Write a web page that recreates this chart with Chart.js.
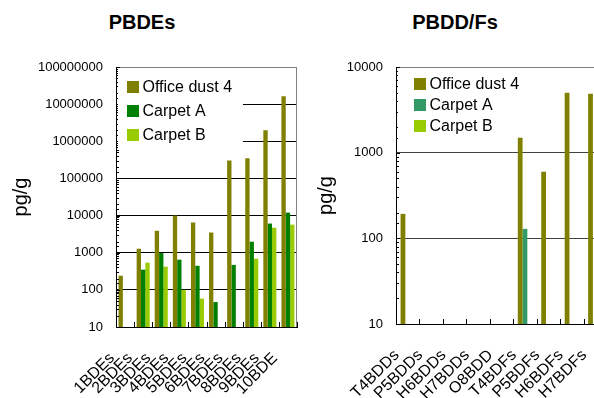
<!DOCTYPE html>
<html>
<head>
<meta charset="utf-8">
<script src="https://cdn.jsdelivr.net/npm/chart.js@4"></script>
<style>
  html, body { margin: 0; padding: 0; background: #fff; overflow: hidden; }
  body { position: relative; width: 594px; height: 398px; font-family: "Liberation Sans", Arial, sans-serif; }
  .title { position: absolute; top: 10px; width: 200px; text-align: center; font-weight: bold; font-size: 20px; line-height: 24px; color: #000; }
  .box { position: absolute; top: 0; height: 398px; }
</style>
</head>
<body>
<div class="title" style="left:42px">PBDEs</div>
<div class="title" style="left:355px">PBDD/Fs</div>
<div class="box" style="left:0; width:305px"><canvas id="pbdeChart"></canvas></div>
<div class="box" style="left:305px; width:310px"><canvas id="pbddChart"></canvas></div>
<script>
// PBDEs (left)
const pbdeLabels = ["1BDEs", "2BDEs", "3BDEs", "4BDEs", "5BDEs", "6BDEs", "7BDEs", "8BDEs", "9BDEs", "10BDE"];
const pbdeOffice = [240, 1280, 3900, 10000, 6500, 3500, 306000, 347000, 1980000, 16400000];
const pbdeCarpetA = [null, 350, 980, 650, 445, 47, 470, 1980, 6100, 12000];
const pbdeCarpetB = [null, 540, 420, 100, 58, null, null, 690, 4700, 5700];

// PBDD/Fs (right)
const pbddLabels = ["T4BDDs", "P5BDDs", "H6BDDs", "H7BDDs", "O8BDD", "T4BDFs", "P5BDFs", "H6BDFs", "H7BDFs"];
const pbddOffice = [193, null, null, null, null, 1490, 600, 5000, 4860];
const pbddCarpetA = [null, null, null, null, null, 129, null, null, null];
const pbddCarpetB = [null, null, null, null, null, null, null, null, null];

const seriesNames = ["Office dust 4", "Carpet A", "Carpet B"];

// colours
const colors = {
    olive: "#808000",
    green: "#008000",
    sea: "#339966",
    lime: "#99CC00"
};

const FONT = "'Liberation Sans', Arial, sans-serif";
Chart.defaults.font.family = FONT;
Chart.defaults.color = "#000";

function isDecade(v) {
    const l = Math.log10(v);
    return Math.abs(l - Math.round(l)) < 1e-9;
}

// small inward ticks, plot frame and a boxed legend like the excel original
const excelBits = {
    id: "excelBits",
    afterDatasetsDraw(chart, args, o) {
        const { ctx, chartArea: a, scales: { x, y } } = chart;
        ctx.save();
        ctx.lineWidth = 1;

        // frame top + right
        ctx.strokeStyle = "#808080";
        ctx.beginPath();
        ctx.moveTo(a.left, a.top + 0.5);
        ctx.lineTo(a.right - 0.5, a.top + 0.5);
        ctx.lineTo(a.right - 0.5, a.bottom);
        ctx.stroke();

        // tick marks
        ctx.strokeStyle = "#000";
        ctx.beginPath();
        y.ticks.forEach(t => {
            const py = Math.round(y.getPixelForValue(t.value)) + 0.5;
            ctx.moveTo(a.left, py);
            ctx.lineTo(a.left + (isDecade(t.value) ? 4 : 3), py);
        });
        for (let i = 0; i <= x.ticks.length; i++) {
            const px = Math.round(x.getPixelForValue(i - 0.5)) + 0.5;
            ctx.moveTo(px, a.bottom);
            ctx.lineTo(px, a.bottom - 5);
        }
        ctx.stroke();

        // legend
        ctx.fillStyle = "#fff";
        ctx.fillRect(a.left + 2, a.top + 2, o.clearW, o.clearH);
        ctx.font = "16px " + FONT;
        ctx.textBaseline = "middle";
        chart.data.datasets.forEach((ds, i) => {
            const cy = a.top + o.top + i * o.gap;
            ctx.fillStyle = ds.backgroundColor;
            ctx.fillRect(a.left + o.left, cy - 6, 12, 12);
            ctx.fillStyle = "#000";
            ctx.fillText(ds.label, a.left + o.left + 15.5, cy + 1);
        });
        ctx.restore();
    }
};

function makeOptions(yMax, gridColor, yWidth, xHeight, catPct, legend, labelOffset, labelPad) {
    return {
        responsive: true,
        maintainAspectRatio: false,
        animation: false,
        layout: { padding: { top: 67, right: 8, left: 0, bottom: 0 } },
        plugins: {
            legend: { display: false },
            tooltip: { enabled: false },
            excelBits: legend
        },
        datasets: { bar: { categoryPercentage: catPct, barPercentage: 1 } },
        scales: {
            x: {
                grid: { display: false, drawTicks: false },
                border: { color: "#000", width: 1 },
                ticks: {
                    autoSkip: false,
                    minRotation: 45,
                    maxRotation: 45,
                    padding: labelPad,
                    labelOffset: labelOffset,
                    font: { size: 16 },
                    color: "#000"
                },
                afterFit(s) {
                    s.height = xHeight;
                    s.paddingLeft = 0;
                    s.paddingRight = 0;
                }
            },
            y: {
                type: "logarithmic",
                min: 10,
                max: yMax,
                grid: {
                    drawTicks: false,
                    color: c => {
                        if (c.tick.value >= yMax) return "#808080";
                        return isDecade(c.tick.value) ? gridColor : "rgba(0,0,0,0)";
                    }
                },
                border: { color: "#000", width: 1 },
                ticks: {
                    autoSkip: false,
                    padding: 13,
                    font: { size: 13 },
                    color: "#000",
                    callback: v => isDecade(v) ? String(Math.round(v)) : ""
                },
                title: {
                    display: true,
                    text: "pg/g",
                    font: { size: 20 },
                    padding: 9
                },
                afterFit(s) {
                    s.width = yWidth;
                    s.paddingTop = 0;
                    s.paddingBottom = 0;
                }
            }
        }
    };
}

new Chart(document.getElementById("pbdeChart"), {
    type: "bar",
    data: {
        labels: pbdeLabels,
        datasets: [
            { label: seriesNames[0], data: pbdeOffice, backgroundColor: colors.olive },
            { label: seriesNames[1], data: pbdeCarpetA, backgroundColor: colors.green },
            { label: seriesNames[2], data: pbdeCarpetB, backgroundColor: colors.lime }
        ]
    },
    options: makeOptions(100000000, "#000", 116, 71, 0.72,
        { left: 11, top: 20, gap: 24, clearW: 125, clearH: 80 }, -13, 22),
    plugins: [excelBits]
});

new Chart(document.getElementById("pbddChart"), {
    type: "bar",
    data: {
        labels: pbddLabels,
        datasets: [
            { label: seriesNames[0], data: pbddOffice, backgroundColor: colors.olive },
            { label: seriesNames[1], data: pbddCarpetA, backgroundColor: colors.sea },
            { label: seriesNames[2], data: pbddCarpetB, backgroundColor: colors.lime }
        ]
    },
    options: makeOptions(10000, "#404040", 91, 74, 0.61,
        { left: 18, top: 17, gap: 21, clearW: 110, clearH: 72 }, -11, 22),
    plugins: [excelBits]
});
</script>
</body>
</html>
